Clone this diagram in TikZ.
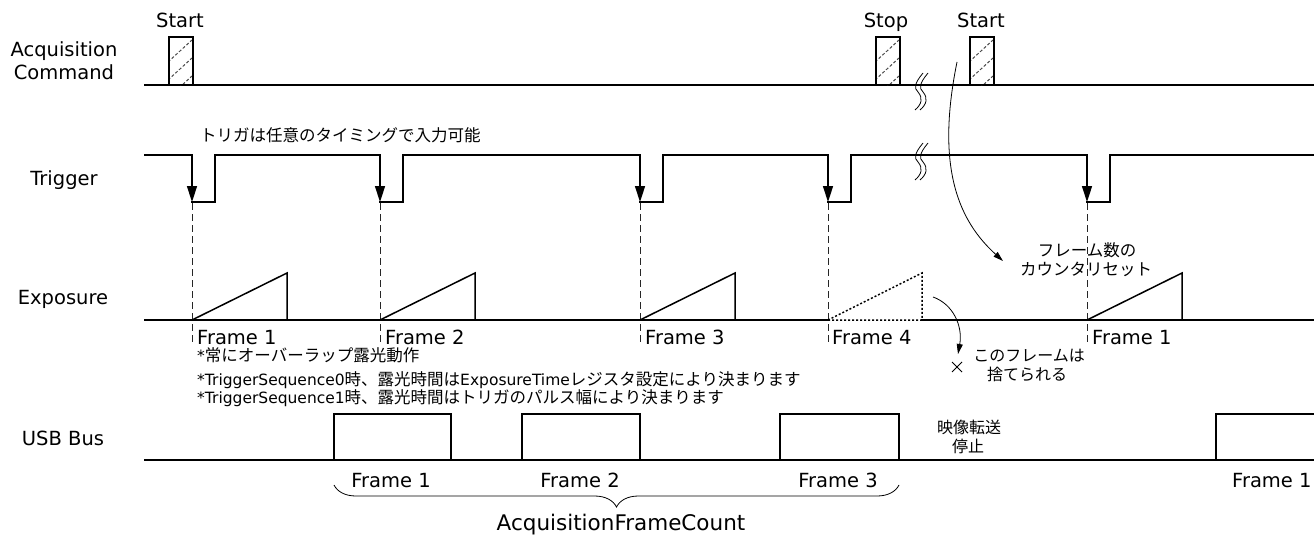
\documentclass[tikz,border=0pt]{standalone}
\usepackage{fontspec}
\setmainfont{DejaVu Sans}
\newfontfamily\jp{Noto Sans CJK JP}
\usetikzlibrary{arrows.meta,decorations.pathreplacing}
\newcommand\J[1]{{\jp\fontsize{16.5}{19}\selectfont #1}}
\begin{document}
\begin{tikzpicture}[x=1pt,y=-1pt,
  sig/.style={line width=1.5pt, line cap=rect},
  fine/.style={line width=0.8pt},
  guide/.style={line width=1pt, dash pattern=on 7pt off 4pt, draw=black!85},
  lbl/.style={font=\fontsize{19.5}{22}\selectfont, inner sep=0pt, anchor=base},
  jlab/.style={font=\jp\fontsize{16.5}{19}\selectfont, inner sep=0pt, anchor=base},
  jsm/.style={font=\jp\fontsize{16}{19}\selectfont, inner sep=0pt, anchor=base},
  note/.style={font=\fontsize{15.5}{18}\selectfont, inner sep=0pt, anchor=base west},
  trig/.style={-{Triangle[length=16pt,width=10pt]}, line width=1.5pt},
  curv/.style={fine, -{Triangle[length=10pt,width=6pt]}},
  hatchbox/.style={draw, line width=1.5pt, minimum width=24pt, minimum height=47pt, inner sep=0pt, anchor=south west},
  hatch/.style={line width=1pt, densely dashed, draw=black!70},
  brk/.style={line width=0.8pt}
]
\useasboundingbox (0,0) rectangle (1314,535);

% row labels
\node[lbl] (acq1) at (64,57) {Acquisition};
\node[lbl] (acq2) at (64,80) {Command};
\node[lbl] (trg) at (64,185) {Trigger};
\node[lbl] (exp) at (63,304) {Exposure};
\node[lbl] (usb) at (63,445) {USB Bus};

% acquisition command
\draw[sig] (145,85) -- (1314,85);
\foreach \x/\nm in {168/b1,875/b2,969/b3}{
  \begin{scope}
    \clip (\x,38) rectangle (\x+24,85);
    \foreach \c in {62,80,98}
      \draw[hatch] (\x,\c) -- (\x+24,\c-22);
  \end{scope}
  \node[hatchbox] (\nm) at (\x,85) {};
}
\node[lbl] (st1) at (180,28) {Start};
\node[lbl] (sp1) at (886,28) {Stop};
\node[lbl] (st2) at (981,28) {Start};

% break marks
\foreach \dy in {0,70}{
  \foreach \dx in {0,5}{
    \draw[brk] (923+\dx,73+\dy) .. controls (914+\dx,84+\dy) and (914+\dx,88+\dy) .. (918+\dx,92+\dy)
       .. controls (923+\dx,98+\dy) and (922+\dx,104+\dy) .. (915+\dx,110+\dy);
  }
}

% trigger
\node[jlab, anchor=base west] (tnote) at (200,141) {トリガは任意のタイミングで入力可能};
\draw[sig] (145,155) -- (192,155);
\foreach \f/\n in {192/380,380/640,640/828,828/1087,1087/1316}{
  \draw[trig] (\f,155) -- (\f,202);
  \draw[sig] (\f,202) -- (\f+23,202) -- (\f+23,155) -- (\n,155);
  \draw[guide] (\f,203) -- (\f,345);
}

% exposure
\draw[sig] (145,320) -- (828,320);
\draw[sig] (922,320) -- (1316,320);
\foreach \s in {192,380,640,1087}
  \draw[sig, line cap=butt] (\s,320) -- (\s+95,273) -- (\s+95,320);
\draw[line width=1.5pt, dash pattern=on 2pt off 2pt] (828,320) -- (922,273) -- (922,320) -- cycle;

\node[lbl, anchor=base west] (ef1) at (197,344) {Frame 1};
\node[lbl, anchor=base west] (ef2) at (385,344) {Frame 2};
\node[lbl, anchor=base west] (ef3) at (645,344) {Frame 3};
\node[lbl, anchor=base west] (ef4) at (832,344) {Frame 4};
\node[lbl, anchor=base west] (ef5) at (1092,344) {Frame 1};

% notes
\node[note] (n1) at (197,361) {*\J{常にオーバーラップ露光動作}};
\node[note] (n2) at (197,385) {*TriggerSequence0\J{時、露光時間は}ExposureTime\J{レジスタ設定により決まります}};
\node[note] (n3) at (197,403) {*TriggerSequence1\J{時、露光時間はトリガのパルス幅により決まります}};

% counter reset
\node[jlab] (r1) at (1087,256) {フレーム数の};
\node[jlab] (r2) at (1086,275) {カウンタリセット};
\coordinate (ra) at (957,62);
\coordinate (rb) at (1003,261);
\draw[curv] (ra) .. controls (935,170) and (960,222) .. (rb);

% discarded frame
\node[jsm] (d1) at (1029,361) {このフレームは};
\node[jsm] (d2) at (1027,380) {捨てられる};
\draw[fine] (952,362) -- (962,372) (952,372) -- (962,362);
\coordinate (da) at (933,297);
\coordinate (db) at (958,354);
\draw[curv] (da) .. controls (953,304) and (963,326) .. (db);

% usb bus
\draw[sig] (145,460) -- (1316,460);
\draw[sig] (334,460) -- (334,414) -- (451,414) -- (451,460);
\draw[sig] (522,460) -- (522,414) -- (640,414) -- (640,460);
\draw[sig] (780,460) -- (780,414) -- (899,414) -- (899,460);
\draw[sig] (1216,460) -- (1216,414) -- (1316,414);
\node[jsm] (u1) at (969,433) {映像転送};
\node[jsm] (u2) at (968,452) {停止};
\node[lbl] (uf1) at (391,487) {Frame 1};
\node[lbl] (uf2) at (580,487) {Frame 2};
\node[lbl] (uf3) at (838,487) {Frame 3};
\node[lbl, anchor=base west] (uf4) at (1232,487) {Frame 1};

% brace
\coordinate (bra) at (899,485);
\coordinate (brb) at (334,485);
\draw[fine, decorate, decoration={brace, amplitude=22pt}] (bra) -- (brb);
\node[lbl, font=\fontsize{21.5}{24}\selectfont] (afc) at (621,530) {AcquisitionFrameCount};
\end{tikzpicture}
\end{document}
